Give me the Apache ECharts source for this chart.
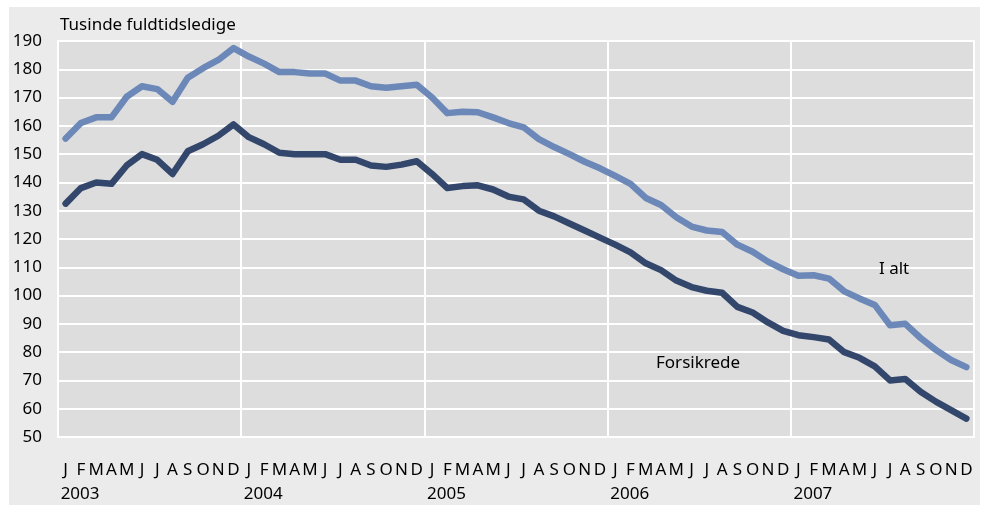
<!DOCTYPE html>
<html>
<head>
<meta charset="utf-8">
<script src="https://cdn.jsdelivr.net/npm/echarts@6/dist/echarts.min.js"></script>
<style>
    html, body { margin: 0; padding: 0; background: #ffffff; }
    #chart { width: 982px; height: 510px; }
</style>
</head>
<body>
<div id="chart"></div>
<script>
const monthLetters = ["J", "F", "M", "A", "M", "J", "J", "A", "S", "O", "N", "D"];
const years = ["2003", "2004", "2005", "2006", "2007"];

const iAlt = [
    155.5, 161, 163, 163, 170.3, 174, 173, 168.5, 177, 180.4, 183.3, 187.5,
    184.5, 182, 179, 179, 178.5, 178.5, 176, 176, 174, 173.5, 174, 174.5,
    170, 164.5, 165, 164.8, 163, 161, 159.5, 155.3, 152.5, 150, 147.3, 145,
    142.3, 139.5, 134.5, 132, 127.7, 124.4, 123, 122.5, 118, 115.5, 112, 109.3,
    107, 107.2, 106, 101.5, 99, 96.7, 89.5, 90, 85, 80.8, 77.2, 74.7
];

const forsikrede = [
    132.5, 138, 140, 139.5, 146, 150, 148, 143, 151, 153.5, 156.5, 160.5,
    156, 153.5, 150.5, 150, 150, 150, 148, 148, 146, 145.5, 146.3, 147.5,
    143, 138, 138.7, 139, 137.5, 135, 134, 130, 128, 125.5, 123, 120.5,
    118, 115.3, 111.4, 109, 105.3, 103, 101.7, 101, 96, 94, 90.5, 87.5,
    86, 85.3, 84.5, 80, 78, 75, 70, 70.5, 66, 62.5, 59.5, 56.5
];

const categories = [];
years.forEach(year => {
    monthLetters.forEach((m, i) => {
        categories.push(i === 0 ? `${m}|${year}` : m);
    });
});

const FONT = "Noto Sans";

const chart = echarts.init(document.getElementById("chart"));

chart.setOption({
    animation: false,
    backgroundColor: "#ffffff",
    graphic: [
        {
            type: "rect",
            z: -10,
            shape: { x: 9, y: 7, width: 971, height: 498 },
            style: { fill: "#ebebeb" }
        },
        {
            type: "text",
            left: 60,
            top: 17,
            style: {
                text: "Tusinde fuldtidsledige",
                font: `17px "${FONT}"`,
                fill: "#000000"
            }
        },
        {
            type: "text",
            left: 879,
            top: 261,
            z: 50,
            style: {
                text: "I alt",
                font: `17px "${FONT}"`,
                fill: "#000000"
            }
        },
        {
            type: "text",
            left: 656,
            top: 355,
            z: 50,
            style: {
                text: "Forsikrede",
                font: `17px "${FONT}"`,
                fill: "#000000"
            }
        }
    ],
    grid: {
        left: 58,
        right: 8,
        top: 41,
        bottom: 73,
        show: true,
        backgroundColor: "#dddddd",
        borderColor: "#ffffff",
        borderWidth: 2
    },
    xAxis: [
        {
            type: "category",
            data: categories,
            boundaryGap: true,
            axisLine: { show: false },
            axisTick: { show: false },
            splitLine: {
                show: true,
                interval: index => index % 12 === 0,
                lineStyle: { color: "#ffffff", width: 2 }
            },
            axisLabel: {
                interval: 0,
                margin: 25,
                color: "#000000",
                fontFamily: FONT,
                fontSize: 17,
                formatter: value => value.split("|")[0]
            }
        },
        {
            type: "category",
            data: categories,
            position: "bottom",
            boundaryGap: true,
            axisLine: { show: false },
            axisTick: { show: false },
            splitLine: { show: false },
            axisLabel: {
                interval: 0,
                margin: 49,
                align: "left",
                padding: [0, 0, 0, -5],
                color: "#000000",
                fontFamily: FONT,
                fontSize: 17,
                formatter: value => value.includes("|") ? value.split("|")[1] : ""
            }
        }
    ],
    yAxis: {
        type: "value",
        min: 50,
        max: 190,
        interval: 10,
        axisLine: { show: false },
        axisTick: { show: false },
        axisLabel: {
            margin: 16,
            color: "#000000",
            fontFamily: FONT,
            fontSize: 17
        },
        splitLine: {
            lineStyle: { color: "#ffffff", width: 2 }
        }
    },
    series: [
        {
            name: "I alt",
            type: "line",
            data: iAlt,
            symbol: "none",
            lineStyle: { color: "#6b88b8", width: 6.5, cap: "round", join: "round" },
            z: 3
        },
        {
            name: "Forsikrede",
            type: "line",
            data: forsikrede,
            symbol: "none",
            lineStyle: { color: "#33466b", width: 6.5, cap: "round", join: "round" },
            z: 4
        }
    ]
});
</script>
</body>
</html>
